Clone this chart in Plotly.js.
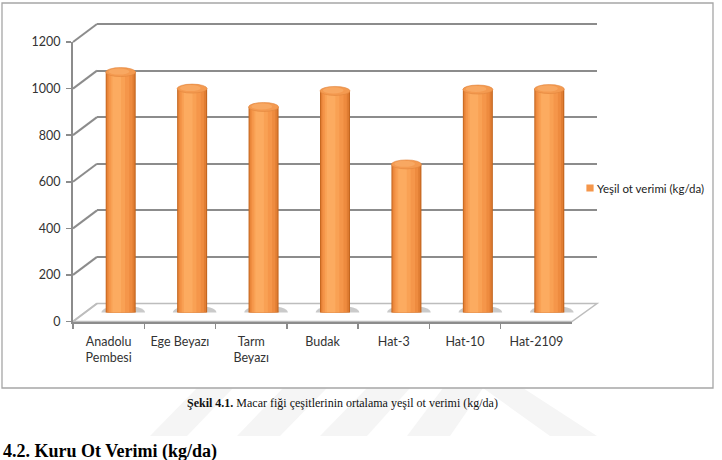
<!DOCTYPE html>
<html>
<head>
<meta charset="utf-8">
<script src="https://cdn.plot.ly/plotly-3.0.1.min.js"></script>
<style>html,body{margin:0;padding:0;background:#fff;}#chart{width:722px;height:460px;}</style>
</head>
<body>
<div id="chart"></div>
<script>
// ---- data ----
const categories = ["Anadolu<br>Pembesi", "Ege Beyazı", "Tarm<br>Beyazı", "Budak", "Hat-3", "Hat-10", "Hat-2109"];
const yesilOtVerimi = [1034, 963, 884, 953, 637, 959, 961];
const seriesName = "Yeşil ot verimi (kg/da)";
const yTickValues = [0, 200, 400, 600, 800, 1000, 1200];
const captionBold = "Şekil 4.1.";
const captionText = " Macar fiği çeşitlerinin ortalama yeşil ot verimi (kg/da)";
const headingText = "4.2. Kuru Ot Verimi (kg/da)";

// ---- layout geometry (pixels in a 722x460 page) ----
const W = 722, H = 460;
const px = v => v / W;
const py = v => 1 - v / H;
const front = {x0: 73, x1: 572, yb: 321.5, yt: 42};
const back  = {x0: 97, x1: 597, yb: 303.5, yt: 24.5};
const mid   = {x0: 85, x1: 585, yb: 312.5, yt: 33.5};
const yMax = 1200;
const scale = (front.yb - front.yt) / yMax;
const frontY = v => front.yb - v * scale;
const backY = v => back.yb - v * scale;
const backMax = 1250; // headroom so the top gridline is drawn

// cylinder shading layers (offset, width in category units, color)
const layers = [
  {o: -0.21, w: 0.42, c: "#c4661f"},
  {o: -0.198, w: 0.392, c: "#e07d33"},
  {o: -0.185, w: 0.35, c: "#ee8b3f"},
  {o: -0.165, w: 0.285, c: "#f5964a"},
  {o: -0.14, w: 0.2, c: "#f9a154"},
  {o: -0.115, w: 0.12, c: "#fcab60"}
];

const traces = layers.map((L, i) => ({
  type: "bar",
  x: categories,
  y: yesilOtVerimi,
  xaxis: "x2", yaxis: "y2",
  offset: L.o, width: L.w,
  marker: {color: L.c, line: {width: 0}},
  name: seriesName,
  showlegend: i === 3,
  hoverinfo: "skip"
}));

// front axis carrier (empty categories so labels/ticks draw)
traces.push({
  type: "bar", x: categories, y: categories.map(() => null),
  xaxis: "x3", yaxis: "y3", showlegend: false, hoverinfo: "skip"
});
// back wall carrier
traces.push({
  type: "scatter", mode: "none", x: [0, 1], y: [null, null],
  xaxis: "x", yaxis: "y", showlegend: false, hoverinfo: "skip"
});

const shapes = [];
// faint watermark stripes below the frame
const wm = [
  [150, 187, 233, 197], [237, 280, 327, 283], [320, 367, 410, 367], [407, 450, 483, 443]
];
wm.forEach(s => {
  shapes.push({type: "path", xref: "paper", yref: "paper", layer: "below",
    path: `M${px(s[0])},${py(436)} L${px(s[1])},${py(436)} L${px(s[2])},${py(388)} L${px(s[3])},${py(388)} Z`,
    fillcolor: "#f5f5f5", line: {width: 0}});
});
shapes.push({type: "path", xref: "paper", yref: "paper", layer: "below",
  path: `M${px(483)},${py(388)} L${px(523)},${py(388)} L${px(597)},${py(436)} L${px(550)},${py(436)} Z`,
  fillcolor: "#f5f5f5", line: {width: 0}});
// outer frame
shapes.push({type: "rect", xref: "paper", yref: "paper", x0: px(2), x1: px(713), y0: py(3), y1: py(388),
  line: {color: "#a6a6a6", width: 1.3}, fillcolor: "#ffffff", layer: "below"});
// floor
shapes.push({type: "path", xref: "paper", yref: "paper", layer: "below",
  path: `M${px(front.x0)},${py(front.yb)} L${px(front.x1)},${py(front.yb)} L${px(back.x1)},${py(back.yb)} L${px(back.x0)},${py(back.yb)} Z`,
  line: {color: "#bdbdbd", width: 1.5}, fillcolor: "#ffffff"});
// side-wall connectors
yTickValues.forEach(v => {
  shapes.push({type: "line", xref: "paper", yref: "paper", layer: "below",
    x0: px(front.x0), y0: py(frontY(v)), x1: px(back.x0), y1: py(backY(v)),
    line: {color: v === 0 ? "#bdbdbd" : "#8c8c8c", width: 2}});
});
// shadows, bottom ellipses, caps
const halfH = 4.5 / scale;
categories.forEach((c, i) => {
  shapes.push({type: "circle", xref: "x2", yref: "y2", layer: "below",
    x0: i - 0.27, x1: i + 0.34, y0: -7 / scale, y1: 7 / scale,
    fillcolor: "rgba(150,150,150,0.5)", line: {width: 0}});
  shapes.push({type: "circle", xref: "x2", yref: "y2", layer: "below",
    x0: i - 0.21, x1: i + 0.21, y0: -halfH, y1: halfH,
    fillcolor: "#e58237", line: {width: 0}});
  const v = yesilOtVerimi[i];
  shapes.push({type: "circle", xref: "x2", yref: "y2", layer: "above",
    x0: i - 0.21, x1: i + 0.21, y0: v - halfH, y1: v + halfH,
    fillcolor: "#f49a50", line: {color: "#e0853c", width: 0.6}});
  shapes.push({type: "circle", xref: "x2", yref: "y2", layer: "above",
    x0: i - 0.17, x1: i + 0.12, y0: v - halfH * 0.55, y1: v + halfH * 0.8,
    fillcolor: "#f8a862", line: {width: 0}});
});

const tickFont = {family: "Lato, 'Open Sans', sans-serif", size: 12.5, color: "#333333"};

const layout = {
  width: W, height: H,
  margin: {l: 0, r: 0, t: 0, b: 0},
  paper_bgcolor: "#ffffff", plot_bgcolor: "rgba(0,0,0,0)",
  barmode: "overlay",
  font: tickFont,
  showlegend: true,
  legend: {x: px(557), y: py(188), xanchor: "left", yanchor: "middle",
    font: {family: "Lato, sans-serif", size: 11.5, color: "#222"}, bgcolor: "rgba(0,0,0,0)",
    itemwidth: 30, tracegroupgap: 0},
  xaxis: {domain: [px(back.x0), px(back.x1)], range: [0, 1], visible: false, fixedrange: true},
  yaxis: {domain: [py(back.yb), py(backY(backMax))], range: [0, backMax], tickvals: yTickValues.slice(1),
    showgrid: true, gridcolor: "#8c8c8c", gridwidth: 2, showticklabels: false, ticks: "",
    zeroline: false, showline: false, fixedrange: true},
  xaxis2: {domain: [px(mid.x0), px(mid.x1)], anchor: "y2", range: [-0.5, categories.length - 0.5],
    type: "category", visible: false, fixedrange: true},
  yaxis2: {domain: [py(mid.yb), py(mid.yt)], anchor: "x2", range: [0, yMax], visible: false, fixedrange: true},
  xaxis3: {domain: [px(front.x0), px(front.x1)], anchor: "y3", type: "category",
    range: [-0.5, categories.length - 0.5],
    showline: true, linecolor: "#8c8c8c", linewidth: 2, ticks: "outside", tickson: "boundaries",
    ticklen: 5, tickcolor: "#8c8c8c", tickwidth: 1.5, showgrid: false, zeroline: false,
    ticklabelstandoff: 7,
    tickfont: tickFont, fixedrange: true},
  yaxis3: {domain: [py(front.yb), py(front.yt)], anchor: "x3", range: [0, yMax], tickvals: yTickValues,
    showline: true, linecolor: "#8c8c8c", linewidth: 2, ticks: "outside", ticklen: 5,
    tickcolor: "#8c8c8c", tickwidth: 1.5, showgrid: false, zeroline: false,
    ticklabelstandoff: 3,
    tickfont: tickFont, fixedrange: true},
  shapes: shapes,
  annotations: [
    {xref: "paper", yref: "paper", x: px(342), y: py(403), xanchor: "center", yanchor: "middle",
     showarrow: false, text: `<b>${captionBold}</b>${captionText}`,
     font: {family: "'Liberation Serif', 'Times New Roman', serif", size: 12, color: "#111"}},
    {xref: "paper", yref: "paper", x: px(1), y: py(451), xanchor: "left", yanchor: "middle",
     showarrow: false, text: `<b>${headingText}</b>`,
     font: {family: "'Liberation Serif', 'Times New Roman', serif", size: 18, color: "#000"}}
  ]
};

Plotly.newPlot("chart", traces, layout, {displayModeBar: false, staticPlot: true}).then(gd => {
  // shrink the legend swatch to match the small Excel key
  gd.querySelectorAll(".legend .legendpoints path").forEach(p => {
    p.setAttribute("transform", "translate(33,0) scale(0.6)");
  });
});
</script>
</body>
</html>
